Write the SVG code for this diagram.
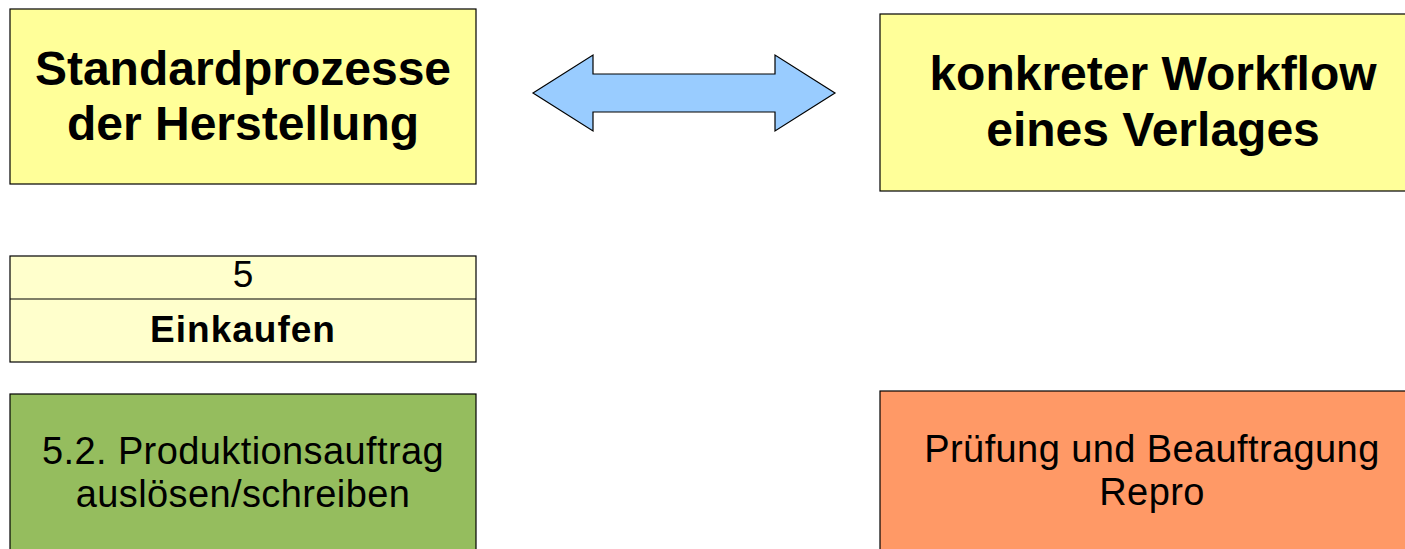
<svg xmlns="http://www.w3.org/2000/svg" width="1405" height="549" viewBox="0 0 1405 549">
<style>
.box{stroke:#000;stroke-width:1.2}
.t{font-family:"Liberation Sans",Arial,sans-serif;fill:#000;text-anchor:middle}
.b{font-weight:bold}
.big{font-size:48px}
.body{font-size:38px;letter-spacing:0.4px}
</style>
<rect width="1405" height="549" fill="#fff"/>
<g id="node-standard">
<rect class="box" x="10" y="9" width="466" height="175" fill="#FFFF99"/>
<text class="t b big" x="243" y="85">Standardprozesse</text>
<text class="t b big" x="243" y="140">der Herstellung</text>
</g>
<g id="node-workflow">
<rect class="box" x="880" y="14" width="546" height="177" fill="#FFFF99"/>
<text class="t b big" x="1153" y="90">konkreter Workflow</text>
<text class="t b big" x="1153" y="146">eines Verlages</text>
</g>
<g id="node-einkaufen">
<rect class="box" x="10" y="256" width="466" height="106" fill="#FFFFCC"/>
<line x1="10" y1="299" x2="476" y2="299" stroke="#000" stroke-width="1.2"/>
<text class="t" x="243" y="287" font-size="37">5</text>
<text class="t b" x="243" y="342" font-size="37" letter-spacing="1">Einkaufen</text>
</g>
<g id="node-produktionsauftrag">
<rect class="box" x="10" y="394" width="466" height="170" fill="#95BD5E"/>
<text class="t body" x="243" y="464">5.2. Produktionsauftrag</text>
<text class="t body" x="243" y="507">auslösen/schreiben</text>
</g>
<g id="node-pruefung">
<rect class="box" x="880" y="391" width="546" height="170" fill="#FF9966"/>
<text class="t body" x="1152" y="462">Prüfung und Beauftragung</text>
<text class="t body" x="1152" y="505">Repro</text>
</g>
<g id="connectors">
<polygon points="533,93 593,55 593,74 775,74 775,55 835,93 775,131 775,112 593,112 593,131" fill="#99CCFF" stroke="#000" stroke-width="1.2" stroke-linejoin="miter"/>
</g>
</svg>
